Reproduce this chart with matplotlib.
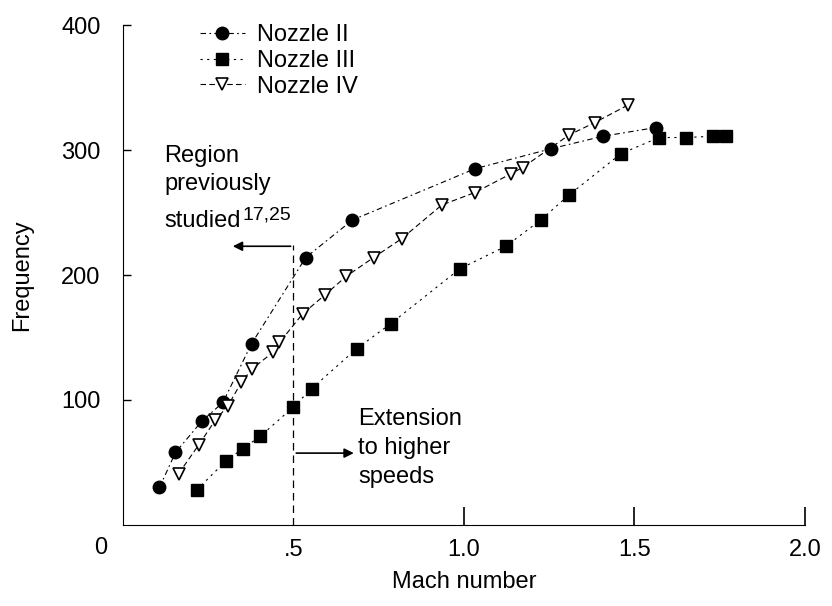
import matplotlib.pyplot as plt

plt.rcParams['font.family'] = ['Liberation Sans', 'DejaVu Sans']

# Nozzle II (filled circles)
mach_2 = [0.107, 0.154, 0.231, 0.293, 0.377, 0.536, 0.673, 1.032, 1.255, 1.407, 1.563]
freq_2 = [30, 58, 83, 98, 145, 214, 244, 285, 301, 311, 318]

# Nozzle III (filled squares)
mach_3 = [0.216, 0.301, 0.351, 0.403, 0.498, 0.553, 0.685, 0.785, 0.988, 1.123,
          1.225, 1.308, 1.460, 1.572, 1.651, 1.730, 1.768]
freq_3 = [28, 51, 61, 71, 94, 109, 141, 161, 205, 223,
          244, 264, 297, 310, 310, 311, 311]

# Nozzle IV (open triangles)
mach_4 = [0.163, 0.222, 0.271, 0.307, 0.347, 0.379, 0.439, 0.459, 0.527, 0.592,
          0.655, 0.735, 0.817, 0.935, 1.032, 1.138, 1.172, 1.308, 1.384, 1.481]
freq_4 = [41, 64, 84, 95, 114, 125, 138, 146, 169, 184,
          199, 214, 229, 256, 266, 281, 286, 312, 322, 336]

xtick_vals = [0.5, 1.0, 1.5, 2.0]
xtick_labels = ['.5', '1.0', '1.5', '2.0']
ytick_vals = [100, 200, 300, 400]

fig = plt.figure(figsize=(8.32, 6.06), dpi=100)
ax = fig.add_axes([0.1478, 0.1337, 0.8197, 0.8250])

ax.plot(mach_2, freq_2, color='black', lw=0.8, ls=(0, (5, 3, 1.5, 3)),
        marker='o', ms=9, label='Nozzle II')
ax.plot(mach_3, freq_3, color='black', lw=0.8, ls=(0, (2, 4)),
        marker='s', ms=8, label='Nozzle III')
ax.plot(mach_4, freq_4, color='black', lw=0.8, ls=(0, (5, 3)),
        marker='v', ms=8, mfc='white', mec='black', mew=1.2, label='Nozzle IV')

ax.set_xlim(0, 2.0)
ax.set_ylim(0, 400)
ax.spines['top'].set_visible(False)
ax.spines['right'].set_visible(False)
ax.set_xticks(xtick_vals, xtick_labels, fontsize=17)
ax.set_yticks(ytick_vals, [str(v) for v in ytick_vals], fontsize=17)
ax.tick_params(axis='x', direction='in', length=13, width=1.2, pad=10)
ax.tick_params(axis='y', direction='in', length=6, width=1.0, pad=16)
ax.xaxis.get_major_ticks()[0].tick1line.set_visible(False)
ax.text(-0.066, -18.4, '0', ha='center', va='center', fontsize=17, clip_on=False)

ax.set_xlabel('Mach number', fontsize=17, labelpad=7)
ax.set_ylabel('Frequency', fontsize=17, labelpad=20)

# boundary of previously studied region
ax.plot([0.5, 0.5], [0, 224], color='black', lw=0.9, ls=(0, (6, 4)))
ax.annotate('', xy=(0.314, 223), xytext=(0.5, 223),
            arrowprops=dict(arrowstyle='-|>', color='black', lw=1.2, mutation_scale=14))
ax.annotate('', xy=(0.685, 57.5), xytext=(0.5, 57.5),
            arrowprops=dict(arrowstyle='-|>', color='black', lw=1.2, mutation_scale=14))
ax.text(0.122, 284, 'Region\npreviously', fontsize=17,
        ha='left', va='center', linespacing=1.4)
studied = ax.text(0.122, 243.5, 'studied', fontsize=17, ha='left', va='center')
ax.annotate('17,25', xy=(1.0, 1.0), xycoords=studied, xytext=(1, 2),
            textcoords='offset points', fontsize=14, ha='left', va='top')
ax.text(0.69, 61.5, 'Extension\nto higher\nspeeds', fontsize=17,
        ha='left', va='center', linespacing=1.4)

ax.legend(loc='upper left', bbox_to_anchor=(0.099, 1.02), frameon=False, fontsize=17,
          handlelength=1.9, handletextpad=0.5, labelspacing=0.15, borderaxespad=0)

fig.savefig('out.png', dpi=100)
